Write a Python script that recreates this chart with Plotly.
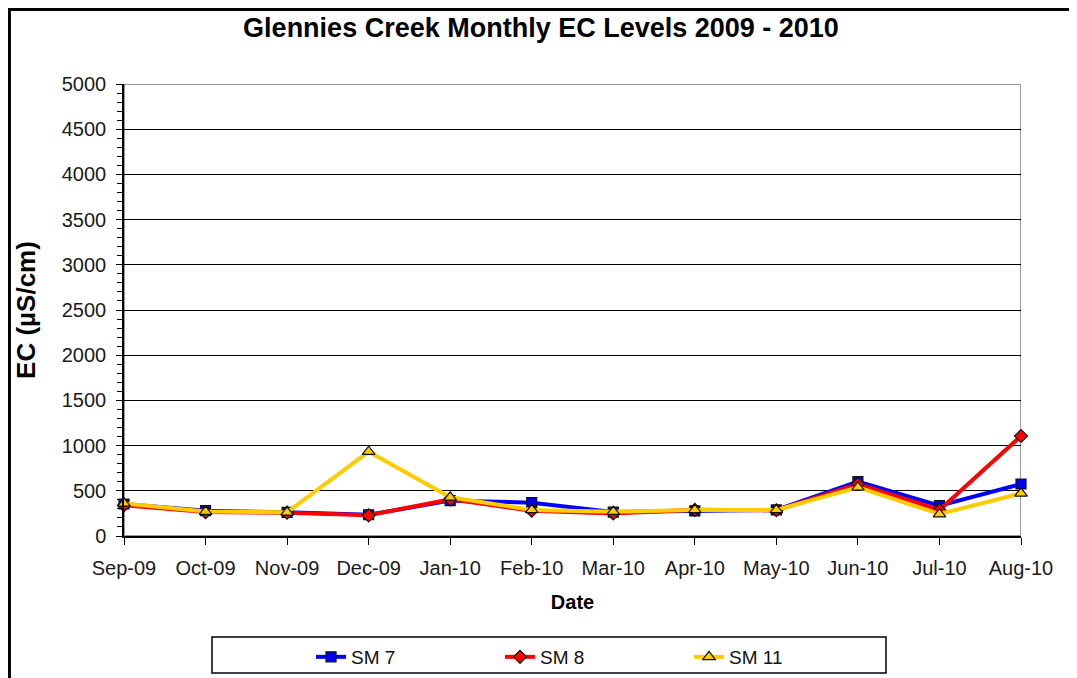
import plotly.graph_objects as go

months = ['Sep-09', 'Oct-09', 'Nov-09', 'Dec-09', 'Jan-10', 'Feb-10',
          'Mar-10', 'Apr-10', 'May-10', 'Jun-10', 'Jul-10', 'Aug-10']
sm7 = [354, 280, 262, 235, 391, 369, 265, 277, 288, 601, 335, 575]
sm8 = [340, 265, 258, 229, 405, 280, 250, 290, 285, 575, 288, 1106]
sm11 = [360, 270, 262, 933, 428, 288, 269, 288, 288, 539, 243, 472]

series = [
    ('SM 7', sm7, '#0000FF', 'square', 10),
    ('SM 8', sm8, '#FF0000', 'diamond', 10),
    ('SM 11', sm11, '#FFCC00', 'triangle-up', 11),
]

fig = go.Figure()
for name, vals, col, sym, sz in series:
    fig.add_trace(go.Scatter(x=months, y=vals, name=name, mode='lines+markers',
                             line=dict(color=col, width=4),
                             marker=dict(symbol=sym, size=sz, color=col,
                                         line=dict(color='#111111', width=1.2)),
                             cliponaxis=False))

# page body has an 8px margin, so the figure is 8px smaller and shifted
font = 'Liberation Sans, Arial, sans-serif'
fig.update_layout(
    width=1069, height=670,
    margin=dict(l=116, r=56, t=76, b=142, autoexpand=False),
    paper_bgcolor='white', plot_bgcolor='white',
    font=dict(family=font, size=20, color='#1a1a1a'),
    title=dict(text='<b>Glennies Creek Monthly EC Levels 2009 - 2010</b>',
               x=533 / 1069, y=1 - 10 / 670, xref='container', yref='container',
               xanchor='center', yanchor='top', automargin=False,
               font=dict(size=27, color='black', family=font)),
    showlegend=True,
    legend=dict(orientation='h', x=0.2085, xanchor='left', y=-0.2677, yanchor='middle',
                entrywidth=144, entrywidthmode='pixels', bgcolor='rgba(0,0,0,0)',
                font=dict(size=19, color='#111111'), itemwidth=30),
    shapes=[
        dict(type='rect', xref='x', yref='y', x0=0, x1=11, y0=0, y1=5000,
             line=dict(color='#999999', width=2), layer='below'),
        dict(type='line', xref='x', yref='y', x0=0, x1=11, y0=5000, y1=5000,
             line=dict(color='#999999', width=2), layer='above'),
        dict(type='rect', xref='paper', yref='paper', x0=0.0981, x1=0.8495,
             y0=-0.3031, y1=-0.2235, line=dict(color='black', width=1.5)),
        dict(type='rect', xref='paper', yref='paper', x0=-0.1277, x1=1.12,
             y0=-0.4, y1=1.1648, line=dict(color='black', width=3)),
    ],
)

fig.update_xaxes(type='category', range=[0, 11], showgrid=False, zeroline=False,
                 showline=True, linecolor='black', linewidth=1.5, automargin=False,
                 ticks='outside', ticklen=7, tickcolor='black', tickwidth=1,
                 ticklabelstandoff=6,
                 title=dict(text='<b>Date</b>', font=dict(size=20, color='black'), standoff=17))
fig.update_yaxes(range=[0, 5000], dtick=500, showgrid=True, gridcolor='black', gridwidth=1,
                 zeroline=False, showline=True, linecolor='black', linewidth=1.5, automargin=False,
                 ticks='outside', ticklen=6, tickcolor='black',
                 ticklabelstandoff=6,
                 minor=dict(dtick=100, ticks='outside', ticklen=5, tickcolor='black', showgrid=False),
                 title=dict(text='<b>EC (µS/cm)</b>', font=dict(size=26, color='black'), standoff=19))

fig.write_html('out.html')
